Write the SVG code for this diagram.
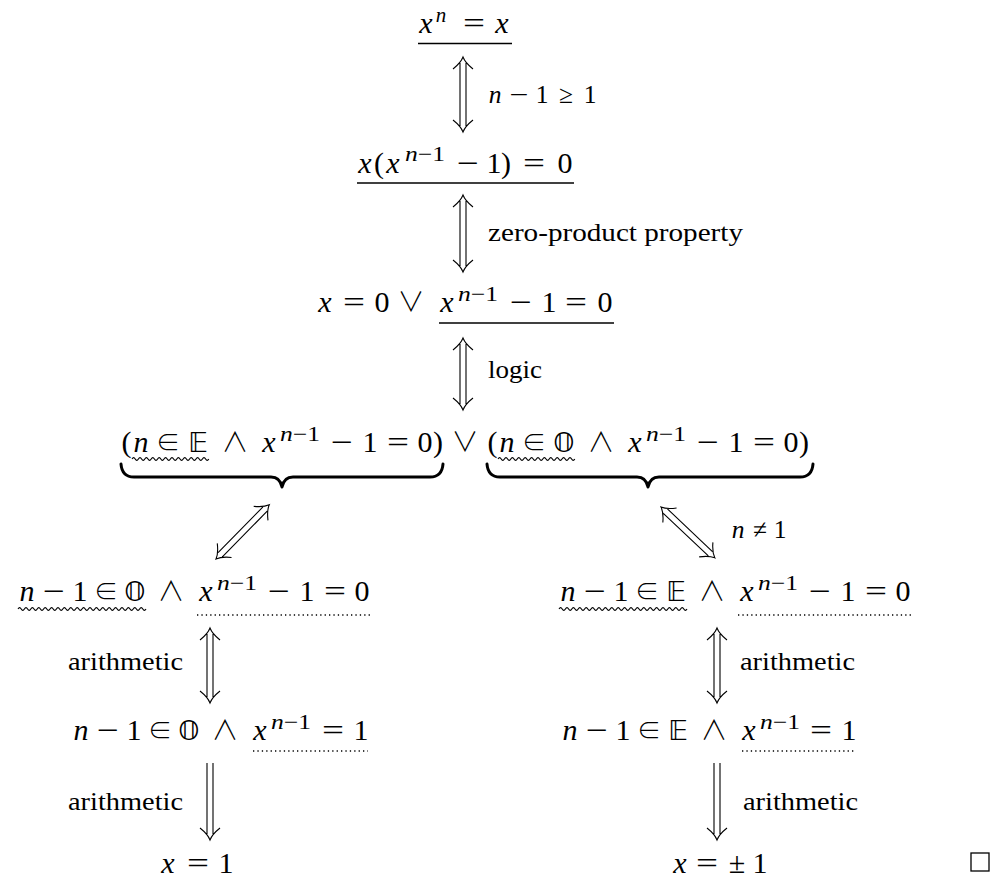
<svg xmlns="http://www.w3.org/2000/svg" width="1006" height="880" viewBox="0 0 1006 880">
<style>
.m{font-family:"Liberation Serif","DejaVu Serif",serif;font-size:30px;text-anchor:middle;fill:#000}
.lm{font-family:"Liberation Serif","DejaVu Serif",serif;font-size:25.5px;text-anchor:middle;fill:#000}
.i{font-style:italic}
.s{font-size:21px}
.op{font-family:"DejaVu Sans ExtraLight","Noto Sans CJK SC","DejaVu Serif",serif;font-weight:300;font-size:27px}
.el{font-family:"DejaVu Sans ExtraLight","Noto Sans CJK SC","DejaVu Serif",serif;font-weight:300;font-size:24px}
.bb{font-family:"DejaVu Sans","DejaVu Serif",sans-serif;font-size:27px}
.l{font-family:"Liberation Serif","DejaVu Serif",serif;font-size:25.5px;fill:#000}
.ul{stroke:#000;stroke-width:1.6;fill:none}
.wv{stroke:#000;stroke-width:1.1;fill:none}
.dt{stroke:#000;stroke-width:1.4;fill:none;stroke-dasharray:1.3 3.1}
.br{stroke:#000;stroke-width:3;fill:none;stroke-linecap:round;stroke-linejoin:round}
.ar{stroke:#000;stroke-width:1.1;fill:none}
</style>

<g id="n1">
<text class="m i" x="426" y="33">x</text>
<text class="m s i" x="441" y="22">n</text>
<text class="m" x="474" y="33" textLength="22" lengthAdjust="spacingAndGlyphs">=</text>
<text class="m i" x="502" y="33">x</text>
<line class="ul" x1="418" y1="43.5" x2="512" y2="43.5"/>
</g>

<g id="n2">
<text class="m i" x="365" y="173">x</text>
<text class="m" x="379" y="173">(</text>
<text class="m i" x="393" y="173">x</text>
<text class="m s" x="425" y="161" textLength="40" lengthAdjust="spacingAndGlyphs"><tspan class="i">n</tspan>−1</text>
<text class="m" x="468" y="173" textLength="22" lengthAdjust="spacingAndGlyphs">−</text>
<text class="m" x="494" y="173">1</text>
<text class="m" x="506" y="173">)</text>
<text class="m" x="534" y="173" textLength="22" lengthAdjust="spacingAndGlyphs">=</text>
<text class="m" x="565" y="173">0</text>
<line class="ul" x1="357" y1="183" x2="574" y2="183"/>
</g>

<g id="n3">
<text class="m i" x="325" y="312">x</text>
<text class="m" x="354" y="312" textLength="22" lengthAdjust="spacingAndGlyphs">=</text>
<text class="m" x="382" y="312">0</text>
<text class="m op" x="411" y="312">∨</text>
<text class="m i" x="447" y="312">x</text>
<text class="m s" x="478" y="301" textLength="40" lengthAdjust="spacingAndGlyphs"><tspan class="i">n</tspan>−1</text>
<text class="m" x="521" y="312" textLength="22" lengthAdjust="spacingAndGlyphs">−</text>
<text class="m" x="549" y="312">1</text>
<text class="m" x="576" y="312" textLength="22" lengthAdjust="spacingAndGlyphs">=</text>
<text class="m" x="605" y="312">0</text>
<line class="ul" x1="439" y1="323" x2="614" y2="323"/>
</g>

<g id="n4">
<text class="m" x="126.5" y="452">(</text>
<text class="m i" x="141" y="452">n</text>
<text class="m el" x="168" y="451">∈</text>
<text class="m bb" x="198" y="452">𝔼</text>
<text class="m op" x="235" y="452">∧</text>
<text class="m i" x="269" y="452">x</text>
<text class="m s" x="300" y="441" textLength="40" lengthAdjust="spacingAndGlyphs"><tspan class="i">n</tspan>−1</text>
<text class="m" x="342" y="452" textLength="22" lengthAdjust="spacingAndGlyphs">−</text>
<text class="m" x="370" y="452">1</text>
<text class="m" x="398" y="452" textLength="22" lengthAdjust="spacingAndGlyphs">=</text>
<text class="m" x="425" y="452">0</text>
<text class="m" x="438" y="452">)</text>
<text class="m op" x="465" y="452">∨</text>
<text class="m" x="492.5" y="452">(</text>
<text class="m i" x="507" y="452">n</text>
<text class="m el" x="534" y="451">∈</text>
<text class="m bb" x="564" y="452">𝕆</text>
<text class="m op" x="601" y="452">∧</text>
<text class="m i" x="635" y="452">x</text>
<text class="m s" x="666" y="441" textLength="40" lengthAdjust="spacingAndGlyphs"><tspan class="i">n</tspan>−1</text>
<text class="m" x="708" y="452" textLength="22" lengthAdjust="spacingAndGlyphs">−</text>
<text class="m" x="736" y="452">1</text>
<text class="m" x="764" y="452" textLength="22" lengthAdjust="spacingAndGlyphs">=</text>
<text class="m" x="791" y="452">0</text>
<text class="m" x="804" y="452">)</text>
<path class="wv" d="M132,459 q1.6,-2.8 3.2,0 t3.2,0 t3.2,0 t3.2,0 t3.2,0 t3.2,0 t3.2,0 t3.2,0 t3.2,0 t3.2,0 t3.2,0 t3.2,0 t3.2,0 t3.2,0 t3.2,0 t3.2,0 t3.2,0 t3.2,0 t3.2,0 t3.2,0 t3.2,0 t3.2,0 t3.2,0 t3.2,0"/>
<path class="wv" d="M498,459 q1.6,-2.8 3.2,0 t3.2,0 t3.2,0 t3.2,0 t3.2,0 t3.2,0 t3.2,0 t3.2,0 t3.2,0 t3.2,0 t3.2,0 t3.2,0 t3.2,0 t3.2,0 t3.2,0 t3.2,0 t3.2,0 t3.2,0 t3.2,0 t3.2,0 t3.2,0 t3.2,0 t3.2,0 t3.2,0"/>
<path class="br" d="M121,464 Q122,477 134,477 L271,477 Q280,477 282,487 Q284,477 293,477 L430,477 Q442,477 443,464"/>
<path class="br" d="M487,464 Q488,477 500,477 L637,477 Q646,477 648,487 Q650,477 659,477 L800,477 Q812,477 813,464"/>
</g>

<g id="n5">
<text class="m i" x="27" y="601">n</text>
<text class="m" x="54" y="601" textLength="22" lengthAdjust="spacingAndGlyphs">−</text>
<text class="m" x="80" y="601">1</text>
<text class="m el" x="106" y="600">∈</text>
<text class="m bb" x="135" y="601">𝕆</text>
<text class="m op" x="171" y="601">∧</text>
<text class="m i" x="206" y="601">x</text>
<text class="m s" x="237" y="590" textLength="40" lengthAdjust="spacingAndGlyphs"><tspan class="i">n</tspan>−1</text>
<text class="m" x="279" y="601" textLength="22" lengthAdjust="spacingAndGlyphs">−</text>
<text class="m" x="307" y="601">1</text>
<text class="m" x="335" y="601" textLength="22" lengthAdjust="spacingAndGlyphs">=</text>
<text class="m" x="362" y="601">0</text>
<path class="wv" d="M18,609 q1.6,-2.8 3.2,0 t3.2,0 t3.2,0 t3.2,0 t3.2,0 t3.2,0 t3.2,0 t3.2,0 t3.2,0 t3.2,0 t3.2,0 t3.2,0 t3.2,0 t3.2,0 t3.2,0 t3.2,0 t3.2,0 t3.2,0 t3.2,0 t3.2,0 t3.2,0 t3.2,0 t3.2,0 t3.2,0 t3.2,0 t3.2,0 t3.2,0 t3.2,0 t3.2,0 t3.2,0 t3.2,0 t3.2,0 t3.2,0 t3.2,0 t3.2,0 t3.2,0 t3.2,0 t3.2,0 t3.2,0 t3.2,0"/>
<line class="dt" x1="197" y1="615" x2="370" y2="615"/>
</g>

<g id="n6">
<text class="m i" x="568" y="601">n</text>
<text class="m" x="595" y="601" textLength="22" lengthAdjust="spacingAndGlyphs">−</text>
<text class="m" x="621" y="601">1</text>
<text class="m el" x="647" y="600">∈</text>
<text class="m bb" x="676" y="601">𝔼</text>
<text class="m op" x="712" y="601">∧</text>
<text class="m i" x="747" y="601">x</text>
<text class="m s" x="778" y="590" textLength="40" lengthAdjust="spacingAndGlyphs"><tspan class="i">n</tspan>−1</text>
<text class="m" x="820" y="601" textLength="22" lengthAdjust="spacingAndGlyphs">−</text>
<text class="m" x="848" y="601">1</text>
<text class="m" x="876" y="601" textLength="22" lengthAdjust="spacingAndGlyphs">=</text>
<text class="m" x="903" y="601">0</text>
<path class="wv" d="M559,609 q1.6,-2.8 3.2,0 t3.2,0 t3.2,0 t3.2,0 t3.2,0 t3.2,0 t3.2,0 t3.2,0 t3.2,0 t3.2,0 t3.2,0 t3.2,0 t3.2,0 t3.2,0 t3.2,0 t3.2,0 t3.2,0 t3.2,0 t3.2,0 t3.2,0 t3.2,0 t3.2,0 t3.2,0 t3.2,0 t3.2,0 t3.2,0 t3.2,0 t3.2,0 t3.2,0 t3.2,0 t3.2,0 t3.2,0 t3.2,0 t3.2,0 t3.2,0 t3.2,0 t3.2,0 t3.2,0 t3.2,0 t3.2,0"/>
<line class="dt" x1="738" y1="615" x2="911" y2="615"/>
</g>

<g id="n7">
<text class="m i" x="81" y="740">n</text>
<text class="m" x="108" y="740" textLength="22" lengthAdjust="spacingAndGlyphs">−</text>
<text class="m" x="134" y="740">1</text>
<text class="m el" x="160" y="739">∈</text>
<text class="m bb" x="189" y="740">𝕆</text>
<text class="m op" x="225" y="740">∧</text>
<text class="m i" x="260" y="740">x</text>
<text class="m s" x="291" y="729" textLength="40" lengthAdjust="spacingAndGlyphs"><tspan class="i">n</tspan>−1</text>
<text class="m" x="333" y="740" textLength="22" lengthAdjust="spacingAndGlyphs">=</text>
<text class="m" x="361" y="740">1</text>
<line class="dt" x1="253" y1="751" x2="368" y2="751"/>
</g>

<g id="n8">
<text class="m i" x="570" y="740">n</text>
<text class="m" x="597" y="740" textLength="22" lengthAdjust="spacingAndGlyphs">−</text>
<text class="m" x="623" y="740">1</text>
<text class="m el" x="649" y="739">∈</text>
<text class="m bb" x="678" y="740">𝔼</text>
<text class="m op" x="714" y="740">∧</text>
<text class="m i" x="749" y="740">x</text>
<text class="m s" x="780" y="729" textLength="40" lengthAdjust="spacingAndGlyphs"><tspan class="i">n</tspan>−1</text>
<text class="m" x="821" y="740" textLength="22" lengthAdjust="spacingAndGlyphs">=</text>
<text class="m" x="849" y="740">1</text>
<line class="dt" x1="742" y1="751" x2="855" y2="751"/>
</g>

<g id="n9">
<text class="m i" x="168" y="873">x</text>
<text class="m" x="198" y="873" textLength="22" lengthAdjust="spacingAndGlyphs">=</text>
<text class="m" x="226" y="873">1</text>
</g>

<g id="n10">
<text class="m i" x="680" y="873">x</text>
<text class="m" x="707" y="873" textLength="22" lengthAdjust="spacingAndGlyphs">=</text>
<text class="m" x="737" y="873">±</text>
<text class="m" x="760" y="873">1</text>
</g>

<g id="qed">
<rect x="971" y="853" width="18" height="18" fill="none" stroke="#000" stroke-width="1.3"/>
</g>

<g id="connectors">
<g transform="translate(463,57) rotate(90)"><path class="ar" d="M6,-3 H69 M6,3 H69 M12,-10 C8,-5 4,-1.5 0,0 C4,1.5 8,5 12,10 M63,-10 C67,-5 71,-1.5 75,0 C71,1.5 67,5 63,10"/></g>
<g transform="translate(463,195) rotate(90)"><path class="ar" d="M6,-3 H71 M6,3 H71 M12,-10 C8,-5 4,-1.5 0,0 C4,1.5 8,5 12,10 M65,-10 C69,-5 73,-1.5 77,0 C73,1.5 69,5 65,10"/></g>
<g transform="translate(463,338) rotate(90)"><path class="ar" d="M6,-3 H66 M6,3 H66 M12,-10 C8,-5 4,-1.5 0,0 C4,1.5 8,5 12,10 M60,-10 C64,-5 68,-1.5 72,0 C68,1.5 64,5 60,10"/></g>
<g transform="translate(216,559) rotate(-45.5)"><path class="ar" d="M6,-3 H70 M6,3 H70 M12,-10 C8,-5 4,-1.5 0,0 C4,1.5 8,5 12,10 M64,-10 C68,-5 72,-1.5 76,0 C72,1.5 68,5 64,10"/></g>
<g transform="translate(661,507) rotate(43.4)"><path class="ar" d="M6,-3 H68 M6,3 H68 M12,-10 C8,-5 4,-1.5 0,0 C4,1.5 8,5 12,10 M62,-10 C66,-5 70,-1.5 74,0 C70,1.5 66,5 62,10"/></g>
<g transform="translate(210,628) rotate(90)"><path class="ar" d="M6,-3 H69 M6,3 H69 M12,-10 C8,-5 4,-1.5 0,0 C4,1.5 8,5 12,10 M63,-10 C67,-5 71,-1.5 75,0 C71,1.5 67,5 63,10"/></g>
<g transform="translate(717,628) rotate(90)"><path class="ar" d="M6,-3 H69 M6,3 H69 M12,-10 C8,-5 4,-1.5 0,0 C4,1.5 8,5 12,10 M63,-10 C67,-5 71,-1.5 75,0 C71,1.5 67,5 63,10"/></g>
<g transform="translate(210,763) rotate(90)"><path class="ar" d="M0,-3 H71 M0,3 H71 M65,-10 C69,-5 73,-1.5 77,0 C73,1.5 69,5 65,10"/></g>
<g transform="translate(717,763) rotate(90)"><path class="ar" d="M0,-3 H71 M0,3 H71 M65,-10 C69,-5 73,-1.5 77,0 C73,1.5 69,5 65,10"/></g>

<text class="lm i" x="495" y="103">n</text>
<text class="lm" x="519" y="103" textLength="19" lengthAdjust="spacingAndGlyphs">−</text>
<text class="lm" x="542" y="103">1</text>
<text class="lm" x="566" y="103">≥</text>
<text class="lm" x="590" y="103">1</text>
<text class="l" x="488" y="241" textLength="255" lengthAdjust="spacingAndGlyphs">zero-product property</text>
<text class="l" x="488" y="378" textLength="54" lengthAdjust="spacingAndGlyphs">logic</text>
<text class="lm i" x="738" y="538">n</text>
<text class="lm" x="760" y="538">≠</text>
<text class="lm" x="780" y="538">1</text>
<text class="l" x="68" y="670" textLength="115" lengthAdjust="spacingAndGlyphs">arithmetic</text>
<text class="l" x="740" y="670" textLength="115" lengthAdjust="spacingAndGlyphs">arithmetic</text>
<text class="l" x="68" y="810" textLength="115" lengthAdjust="spacingAndGlyphs">arithmetic</text>
<text class="l" x="743" y="810" textLength="115" lengthAdjust="spacingAndGlyphs">arithmetic</text>
</g>
</svg>
